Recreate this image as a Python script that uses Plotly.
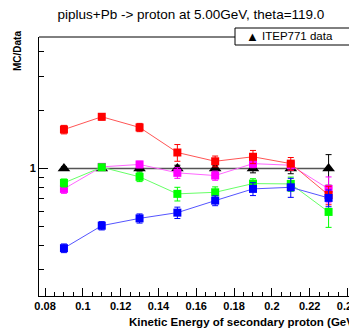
import plotly.graph_objects as go

energy = [0.09, 0.11, 0.13, 0.15, 0.17, 0.19, 0.21, 0.23]

data_ratio = [1.0, 1.0, 1.0, 1.0, 1.0, 1.0, 1.0, 1.0]
data_err = [0.02, 0.02, 0.03, 0.04, 0.04, 0.05, 0.06, 0.18]

magenta_vals = [0.785, 1.02, 1.05, 0.95, 0.92, 1.06, 1.04, 0.785]
magenta_err = [0.04, 0.03, 0.04, 0.06, 0.05, 0.05, 0.06, 0.12]

green_vals = [0.843, 1.016, 0.906, 0.74, 0.754, 0.836, 0.833, 0.597]
green_err = [0.04, 0.03, 0.05, 0.06, 0.05, 0.05, 0.07, 0.10]

red_vals = [1.59, 1.85, 1.63, 1.21, 1.09, 1.15, 1.06, 0.73]
red_err = [0.08, 0.07, 0.08, 0.12, 0.07, 0.09, 0.08, 0.08]

blue_vals = [0.388, 0.507, 0.553, 0.592, 0.683, 0.785, 0.80, 0.705]
blue_err = [0.02, 0.025, 0.03, 0.04, 0.04, 0.06, 0.09, 0.07]

y_minor = [0.3, 0.4, 0.5, 0.6, 0.7, 0.8, 0.9, 2, 3, 4]

fig = go.Figure()

fig.add_trace(go.Scatter(
    x=energy, y=data_ratio, mode="lines+markers", name="ITEP771 data",
    line=dict(color="#555555", width=1.5),
    marker=dict(symbol="triangle-up", size=11, color="black"),
    error_y=dict(type="data", array=data_err, color="black", thickness=1, width=3),
    showlegend=False,
))

series = [
    (magenta_vals, magenta_err, "#ff00ff", "#ff66ff"),
    (green_vals, green_err, "#00ff00", "#66ff66"),
    (red_vals, red_err, "#ff0000", "#ff5555"),
    (blue_vals, blue_err, "#0000ff", "#5555ff"),
]
for vals, errs, col, lcol in series:
    fig.add_trace(go.Scatter(
        x=energy, y=vals, mode="lines+markers",
        line=dict(color=lcol, width=1),
        marker=dict(symbol="square", size=8, color=col),
        error_y=dict(type="data", array=errs, color=col, thickness=1, width=3),
        showlegend=False,
    ))

fig.update_layout(
    width=349, height=328,
    margin=dict(l=39, r=0, t=37, b=32, autoexpand=False),
    paper_bgcolor="white", plot_bgcolor="white",
    font=dict(family="Liberation Sans, Arial, sans-serif", color="black"),
    title=dict(text="piplus+Pb -> proton at 5.00GeV, theta=119.0",
               x=0.547, xanchor="center", xref="container",
               y=0.957, yanchor="middle", yref="container",
               font=dict(size=13.5)),
)

fig.update_xaxes(
    range=[0.0768, 0.2408], showgrid=False, zeroline=False, automargin=False,
    showline=True, linecolor="black", linewidth=1, mirror=False,
    ticks="inside", ticklen=8, tickcolor="black",
    tick0=0.08, dtick=0.02, tickformat=".2~f",
    ticklabeloverflow="allow",
    tickfont=dict(size=11, family="Liberation Sans, Arial, sans-serif", weight="bold"),
    minor=dict(ticks="inside", ticklen=4, tickcolor="black", dtick=0.005, tick0=0.08),
)
fig.update_yaxes(
    type="log", range=[-0.658, 0.679], showgrid=False, zeroline=False, automargin=False,
    showline=True, linecolor="black", linewidth=1,
    ticks="inside", ticklen=9, tickcolor="black",
    tickmode="array", tickvals=[1], ticktext=["1"],
    tickfont=dict(size=11, family="Liberation Sans, Arial, sans-serif", weight="bold"),
    minor=dict(ticks="inside", ticklen=5, tickcolor="black", tickmode="array", tickvals=y_minor),
)

# top frame line
fig.add_shape(type="line", xref="paper", yref="paper", x0=0, x1=1, y0=1, y1=1,
              line=dict(color="black", width=1))

# legend box
fig.add_shape(type="rect", xref="paper", yref="paper",
              x0=(235 - 39) / 310, x1=1.01, y0=(296 - 45) / 259, y1=(296 - 28) / 259,
              line=dict(color="black", width=1), fillcolor="white")
fig.add_annotation(xref="paper", yref="paper", x=(252 - 39) / 310, y=(296 - 36.5) / 259,
                   text="▲", showarrow=False, font=dict(size=13, color="black"),
                   xanchor="center", yanchor="middle")
fig.add_annotation(xref="paper", yref="paper", x=(260 - 39) / 310, y=(296 - 36.5) / 259,
                   text="ITEP771 data", showarrow=False, font=dict(size=11.5),
                   xanchor="left", yanchor="middle")

# axis titles
fig.add_annotation(xref="paper", yref="paper", x=(127 - 39) / 310, y=(296 - 322) / 259,
                   text="<b>Kinetic Energy of secondary proton (GeV)</b>", showarrow=False,
                   font=dict(size=11.5), xanchor="left", yanchor="middle")
fig.add_annotation(xref="paper", yref="paper", x=(17 - 39) / 310, y=(296 - 29) / 259,
                   text="<b>MC/Data</b>", showarrow=False, textangle=-90,
                   font=dict(size=10), xanchor="center", yanchor="top")

fig.write_html("out.html")
